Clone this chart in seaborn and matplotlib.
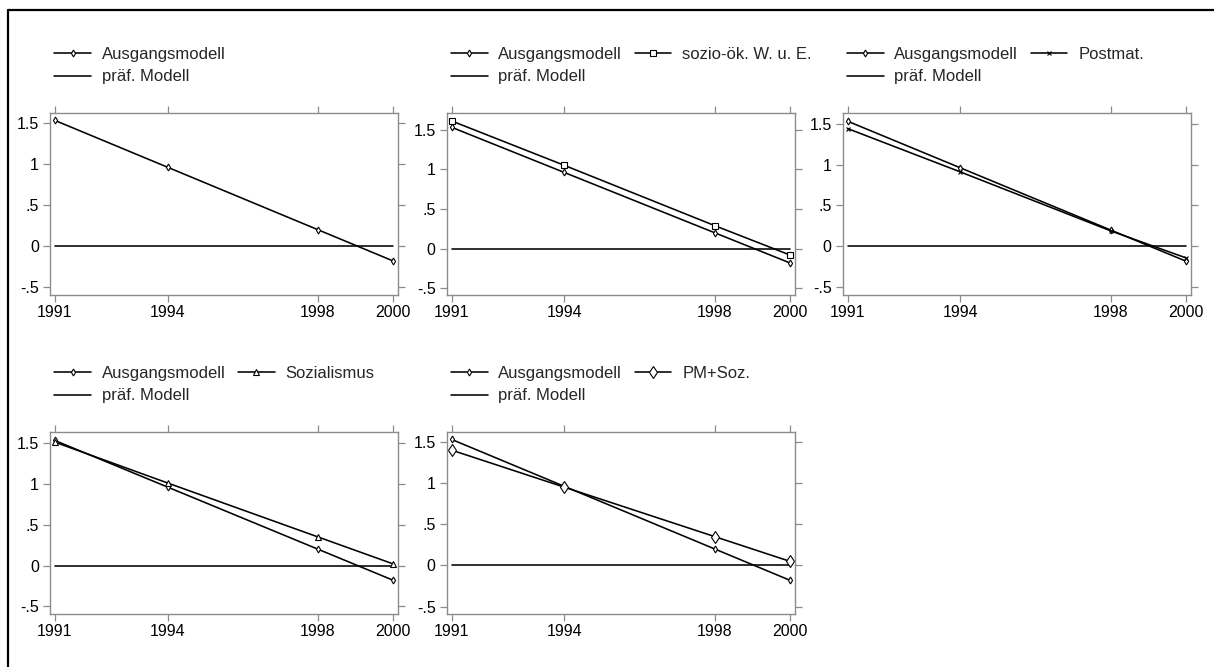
import matplotlib
matplotlib.use("Agg")
import matplotlib.pyplot as plt
import matplotlib.lines as mlines
import seaborn as sns
import pandas as pd

years = [1991, 1994, 1998, 2000]
ausgang = [1.53, 0.96, 0.20, -0.18]
praef = [0.0, 0.0, 0.0, 0.0]
sozio = [1.61, 1.05, 0.29, -0.08]
postmat = [1.44, 0.91, 0.19, -0.14]
sozialismus = [1.51, 1.01, 0.35, 0.02]
pmsoz = [1.40, 0.95, 0.35, 0.05]

ytick_vals = [-0.5, 0, 0.5, 1, 1.5]
ytick_labels = ["-.5", "0", ".5", "1", "1.5"]

panels = [
    (None, None, None),
    ("sozio-ök. W. u. E.", sozio, "s"),
    ("Postmat.", postmat, "x"),
    ("Sozialismus", sozialismus, "^"),
    ("PM+Soz.", pmsoz, "d"),
]
ylims = [(-0.594, 1.62), (-0.585, 1.71), (-0.594, 1.63), (-0.593, 1.634), (-0.59, 1.62)]

sns.set_style("white")
plt.rcParams["font.family"] = ["Liberation Sans", "DejaVu Sans"]
plt.rcParams["font.size"] = 12

W, H = 1214, 667
fig = plt.figure(figsize=(W / 100, H / 100), dpi=100)

# frame lines (left and top)
fig.add_artist(mlines.Line2D([8 / W, 8 / W], [0, 1 - 10 / H], color="black", lw=1.6, transform=fig.transFigure))
fig.add_artist(mlines.Line2D([8 / W, 1], [1 - 10 / H, 1 - 10 / H], color="black", lw=1.6, transform=fig.transFigure))

lefts = [50, 446.7, 842.7, 50, 446.7]
tops = [113, 113, 113, 432, 432]
aw, ah = 348, 182

msizes = {"s": 3.8, "x": 3.5, "^": 3.8, "d": 6}
LW = 1.15

for i, (lab, vals, mk) in enumerate(panels):
    ax = fig.add_axes([lefts[i] / W, 1 - (tops[i] + ah) / H, aw / W, ah / H])
    df = pd.DataFrame({"year": years, "a": ausgang, "p": praef})
    sns.lineplot(data=df, x="year", y="a", ax=ax, color="black", lw=LW, marker="d",
                 markersize=3.5, markerfacecolor="white", markeredgecolor="black",
                 markeredgewidth=0.8, label="Ausgangsmodell")
    sns.lineplot(data=df, x="year", y="p", ax=ax, color="black", lw=LW, label="präf. Modell")
    if vals is not None:
        df2 = pd.DataFrame({"year": years, "v": vals})
        sns.lineplot(data=df2, x="year", y="v", ax=ax, color="black", lw=LW, marker=mk,
                     markersize=msizes[mk], markerfacecolor="white", markeredgecolor="black",
                     markeredgewidth=0.8, label=lab)
    ax.set_xlim(1990.87, 2000.13)
    ax.set_ylim(*ylims[i])
    ax.set_xticks(years)
    ax.set_xticklabels([str(y) for y in years])
    ax.set_yticks(ytick_vals)
    ax.set_yticklabels(ytick_labels)
    ax.set_xlabel("")
    ax.set_ylabel("")
    for s in ax.spines.values():
        s.set_color("#8c8c8c")
        s.set_linewidth(1.0)
    ax.tick_params(axis="both", which="both", direction="out", length=5, width=0.9,
                   color="#8c8c8c", labelsize=11.5, labelcolor="black",
                   top=True, right=True, bottom=True, left=True, pad=3)
    ax.tick_params(axis="x", pad=2)
    handles, labels = ax.get_legend_handles_labels()
    ax.legend(handles, labels, ncol=2 if vals is not None else 1, loc="center left",
              bbox_to_anchor=(0.012, 1.26),
              frameon=False, borderpad=0, borderaxespad=0, handlelength=2.2,
              handletextpad=0.65, columnspacing=0.75, labelspacing=0.45, fontsize=12)

fig.savefig("out.png", dpi=100)
